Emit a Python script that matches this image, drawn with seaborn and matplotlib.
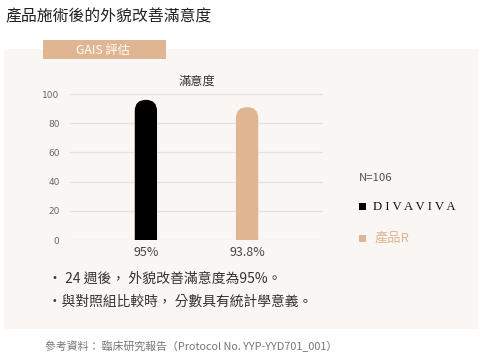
import matplotlib
matplotlib.use("Agg")
import matplotlib.pyplot as plt
import seaborn as sns
import pandas as pd
from matplotlib.patches import FancyBboxPatch, Rectangle

# ---- data ----
groups = ["DIVAVIVA", "產品R"]
values = [96, 91]
value_labels = ["95%", "93.8%"]
bar_colors = ["#000000", "#dfb592"]
yticks = [0, 20, 40, 60, 80, 100]

title = "產品施術後的外貌改善滿意度"
tab_text = "GAIS 評估"
chart_title = "滿意度"
n_text = "N=106"
bullets = ["・ 24 週後， 外貌改善滿意度為95%。", "・與對照組比較時， 分數具有統計學意義。"]
footer = "參考資料： 臨床研究報告（Protocol No. YYP-YYD701_001）"

sns.set_theme(style="white")
plt.rcParams["font.family"] = ["Noto Sans CJK TC", "DejaVu Sans"]

W, H = 480, 361
fig = plt.figure(figsize=(W / 100, H / 100), dpi=100)
fig.patch.set_facecolor("white")

def fx(px):
    return px / W

def fy(py):
    return 1 - py / H

# panel background
fig.patches.append(Rectangle((fx(4), fy(329)), fx(474), (329 - 49) / H,
                             transform=fig.transFigure, facecolor="#faf6f3",
                             edgecolor="none", zorder=-2))
# tab
fig.patches.append(Rectangle((fx(43), fy(59)), fx(123), (59 - 40) / H,
                             transform=fig.transFigure, facecolor="#e0b591",
                             edgecolor="none", zorder=-1))
fig.text(fx(103), fy(50), tab_text, ha="center", va="center", color="white",
         fontsize=8.8)

fig.text(fx(5), fy(17), title, ha="left", va="center", color="#222222",
         fontsize=11.4)

# axes
ax_left, ax_right, ax_top, ax_bot = 70, 323, 94, 240
ax = fig.add_axes([fx(ax_left), fy(ax_bot), (ax_right - ax_left) / W, (ax_bot - ax_top) / H])
ax.set_facecolor("none")
df = pd.DataFrame({"group": groups, "value": values})
sns.barplot(data=df, x="group", y="value", hue="group", palette=bar_colors,
            width=0.22, legend=False, ax=ax, saturation=1)
ax.set_xlim(-0.75, 1.75)
ax.set_ylim(0, 100)
ax.set_yticks(yticks)
ax.grid(axis="y", color="#e6e2de", linewidth=0.9)
ax.set_axisbelow(True)
for s in ax.spines.values():
    s.set_visible(False)
ax.set_xlabel("")
ax.set_ylabel("")
ax.set_xticks(range(len(groups)))
ax.set_xticklabels(value_labels, fontsize=9, color="#444444")
ax.tick_params(axis="x", length=0, pad=4.5)
ax.tick_params(axis="y", length=0, pad=7.5, labelsize=6.5, labelcolor="#666666")
for lab in ax.get_yticklabels():
    lab.set_fontfamily(["DejaVu Sans"])

# rounded tops
fig.canvas.draw()
bbox = ax.get_window_extent()
xpp = (ax.get_xlim()[1] - ax.get_xlim()[0]) / bbox.width
ypp = (ax.get_ylim()[1] - ax.get_ylim()[0]) / bbox.height
aspect = ypp / xpp
for p in list(ax.patches):
    x0, w, h = p.get_x(), p.get_width(), p.get_height()
    col = p.get_facecolor()
    p.set_visible(False)
    fb = FancyBboxPatch((x0, -20), w, h + 20,
                        boxstyle=f"round,pad=0,rounding_size={w / 2}",
                        mutation_aspect=aspect, facecolor=col, edgecolor="none",
                        zorder=3)
    ax.add_patch(fb)

ax.set_title(chart_title, fontsize=8.8, color="#333333", pad=7)

# legend area
fig.text(fx(359), fy(178), n_text, ha="left", va="center", color="#555555", fontsize=8.2)
fig.patches.append(Rectangle((fx(359), fy(210)), fx(7), 7 / H, transform=fig.transFigure,
                             facecolor=bar_colors[0], edgecolor="none"))
fig.text(fx(373), fy(206.5), "D I V A V I V A", ha="left", va="center", color="#111111",
         fontsize=9.2, family=["Liberation Serif"])
fig.patches.append(Rectangle((fx(359), fy(242)), fx(7), 7 / H, transform=fig.transFigure,
                             facecolor=bar_colors[1], edgecolor="none"))
fig.text(fx(375), fy(238.5), groups[1], ha="left", va="center", color="#dfb592", fontsize=9.5)

fig.text(fx(48), fy(279), bullets[0], ha="left", va="center", color="#333333", fontsize=10)
fig.text(fx(48), fy(302), bullets[1], ha="left", va="center", color="#333333", fontsize=9.9)
fig.text(fx(45), fy(346), footer, ha="left", va="center", color="#777777", fontsize=7.8)

fig.savefig("out.png", dpi=100, facecolor="white")
